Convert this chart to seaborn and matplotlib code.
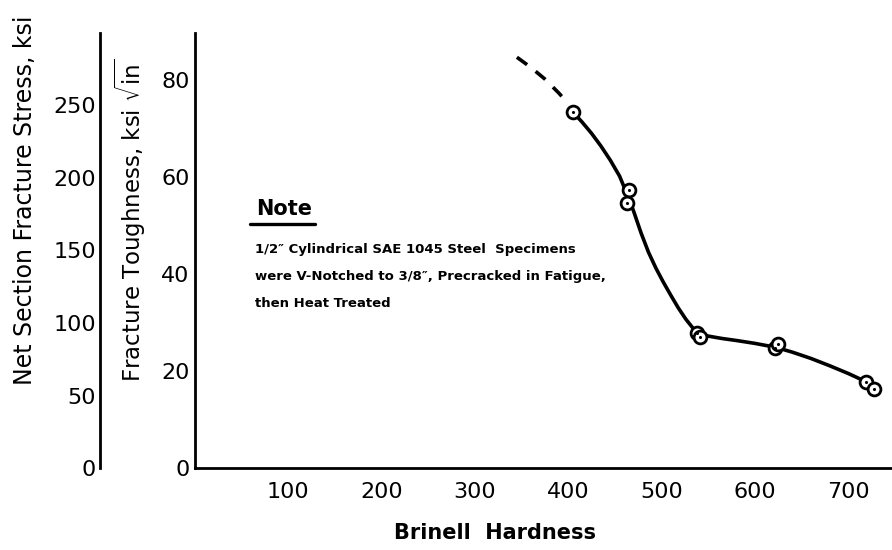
import matplotlib
matplotlib.use("Agg")
import matplotlib.pyplot as plt
from matplotlib.lines import Line2D
import seaborn as sns

# Measured specimens: Brinell hardness vs. fracture toughness (ksi sqrt(in))
hardness = [405, 465, 463, 538, 541, 622, 625, 719, 728]
toughness = [73.4, 57.3, 54.6, 27.8, 27.0, 24.7, 25.6, 17.7, 16.3]

# Hand-faired trend curve: extrapolated (dashed) part and fitted (solid) part
dash_x = [345, 360, 375, 390, 397]
dash_y = [84.7, 82.6, 80.2, 77.3, 75.8]
curve_x = [405, 415, 425, 435, 445, 455, 463, 470, 478, 486, 494, 502, 510,
           518, 526, 533, 540, 550, 565, 580, 600, 622, 640, 660, 680, 700,
           718, 732]
curve_y = [73.4, 71.3, 69.0, 66.4, 63.5, 60.2, 56.5, 53.0, 48.5, 44.5, 41.2,
           38.3, 35.6, 33.0, 30.7, 29.0, 27.9, 27.2, 26.7, 26.3, 25.7, 24.9,
           23.9, 22.6, 21.1, 19.5, 17.9, 16.3]

x_ticks = [100, 200, 300, 400, 500, 600, 700]
k_ticks = [0, 20, 40, 60, 80]
stress_ticks = [0, 50, 100, 150, 200, 250]

note_title = "Note"
note_lines = ["1/2\u2033 Cylindrical SAE 1045 Steel  Specimens",
              "were V-Notched to 3/8\u2033, Precracked in Fatigue,",
              "then Heat Treated"]

sns.set_style("white")
plt.rcParams["font.family"] = ["DejaVu Sans"]
plt.rcParams["mathtext.fontset"] = "dejavusans"
plt.rcParams["text.color"] = "black"
plt.rcParams["axes.labelcolor"] = "black"
plt.rcParams["xtick.color"] = "black"
plt.rcParams["ytick.color"] = "black"

W, H = 892, 550
fig = plt.figure(figsize=(W / 100, H / 100), dpi=100)
fig.patch.set_facecolor("white")

# main axes (fracture toughness)
ax = fig.add_axes([195 / W, 82 / H, 697 / W, 435 / H])
ax.set_xlim(0, 747)
ax.set_ylim(0, 89.7)
ax.patch.set_alpha(0)

sns.lineplot(x=dash_x, y=dash_y, ax=ax, color="black", lw=2.6,
             linestyle=(0, (3.5, 3.0)), sort=False, estimator=None)
sns.lineplot(x=curve_x, y=curve_y, ax=ax, color="black", lw=2.6,
             sort=False, estimator=None)
sns.scatterplot(x=hardness, y=toughness, ax=ax, s=85, color="white",
                edgecolor="black", linewidth=2.0, zorder=3)
sns.scatterplot(x=hardness, y=toughness, ax=ax, s=5, color="black",
                linewidth=0, zorder=4)

for side in ("top", "right"):
    ax.spines[side].set_visible(False)
for side in ("left", "bottom"):
    ax.spines[side].set_linewidth(2.0)
    ax.spines[side].set_color("black")

ax.set_xticks(x_ticks)
ax.set_xticklabels([str(v) for v in x_ticks])
ax.set_yticks(k_ticks)
ax.set_yticklabels([str(v) for v in k_ticks])
ax.tick_params(axis="x", direction="in", length=8, width=1.8, labelsize=16,
               pad=10, colors="black")
ax.tick_params(axis="y", direction="in", length=9, width=1.8, labelsize=16,
               pad=4, colors="black")

ax.set_xlabel("Brinell  Hardness", fontsize=15, fontweight="bold",
              color="black")
ax.xaxis.set_label_coords(0.555, 0.031, transform=fig.transFigure)
ax.xaxis.label.set_va("center")

ax.set_ylabel(r"Fracture Toughness, ksi $\sqrt{\mathrm{in}}$", fontsize=16.5,
              color="black")
ax.yaxis.set_label_coords(130 / W, 1 - 220 / H, transform=fig.transFigure)
ax.yaxis.label.set_va("center")

# outer axis (net section fracture stress)
ax2 = fig.add_axes([100 / W, 82 / H, 0.001, 435 / H])
ax2.set_ylim(0, 300)
ax2.patch.set_alpha(0)
for side in ("top", "right", "bottom"):
    ax2.spines[side].set_visible(False)
ax2.spines["left"].set_linewidth(2.0)
ax2.spines["left"].set_color("black")
ax2.set_xticks([])
ax2.set_yticks(stress_ticks)
ax2.set_yticklabels([str(v) for v in stress_ticks])
ax2.tick_params(axis="y", direction="in", length=8, width=1.8, labelsize=16,
                pad=3, colors="black")
ax2.set_ylabel("Net Section Fracture Stress, ksi", fontsize=17, color="black")
ax2.yaxis.set_label_coords(25 / W, 1 - 200 / H, transform=fig.transFigure)
ax2.yaxis.label.set_va("center")

# note block
ax.text(66, 53.4, note_title, fontsize=15, fontweight="bold", ha="left",
        va="center", color="black")
ax.add_line(Line2D([59, 129], [50.4, 50.4], color="black", lw=2.4))
for i, line in enumerate(note_lines):
    ax.text(64, 45.0 - i * 5.5, line, fontsize=9.5, fontweight="bold",
            ha="left", va="center", color="black")

fig.savefig("out.png", dpi=100, facecolor="white")
